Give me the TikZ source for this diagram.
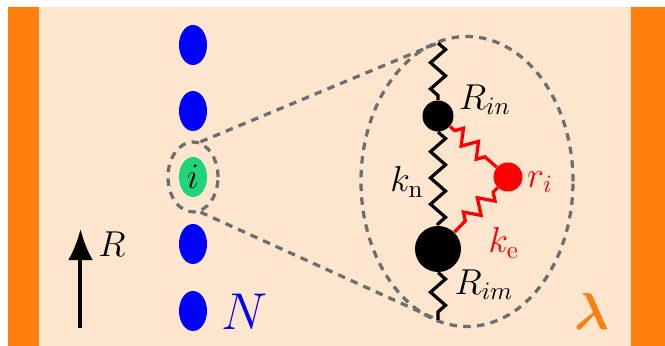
\documentclass[tikz,border=0pt]{standalone}
\usepackage{amsmath,amssymb}
\usepackage{bm}
\usepackage{tikz}
\usetikzlibrary{arrows.meta,shapes.geometric,decorations.pathmorphing}
\definecolor{peach}{RGB}{253,229,206}
\definecolor{barorange}{RGB}{255,127,14}
\definecolor{beadgreen}{RGB}{30,213,122}
\definecolor{zoomgray}{RGB}{110,110,110}
\tikzset{bead/.style={ellipse,inner sep=0pt,minimum width=11.2pt,minimum height=16pt},
         zoomring/.style={ellipse,draw=zoomgray,line width=1.3pt,dash pattern=on 3pt off 2.5pt,inner sep=0pt},
         zoomline/.style={draw=zoomgray,line width=1.3pt,dash pattern=on 3pt off 2.5pt},
         mono/.style={circle,fill=black,inner sep=0pt},
         nspring/.style={decorate,decoration={zigzag,segment length=10.5pt,amplitude=3pt},line width=1.3pt},
         espring/.style={decorate,decoration={zigzag,segment length=8pt,amplitude=3pt,pre length=2.5pt,post length=2.5pt},line width=1.3pt,red},
         raxis/.style={-{Latex[length=12.5pt,width=10pt]},line width=1.6pt}}

\begin{document}
\begin{tikzpicture}[x=20pt,y=20pt]
  \useasboundingbox (0,0) rectangle (13.3,6.92);
  \fill[peach] (0.16,0) rectangle (13.3,6.78);
  \fill[barorange] (0.16,0) rectangle (0.78,6.78) (12.62,0) rectangle (13.3,6.78);
  % the chain of beads
  \foreach \y/\n in {6.02/a,4.70/b,2.04/d,0.70/e}
    \node[bead,fill=blue] (b\n) at (3.86,\y) {};
  \node[bead,fill=beadgreen,font=\Large] (bi) at (3.86,3.38) {$i$};
  \node[zoomring,minimum width=20pt,minimum height=28pt] (zs) at (bi) {};
  \node[zoomring,minimum width=84.8pt,minimum height=116pt] (zb) at (9.34,3.29) {};
  \coordinate (top) at (8.76,6.06);
  \coordinate (bot) at (8.76,0.52);
  \draw[zoomline] (zs.78)--(top);
  \draw[zoomline] (zs.-78)--(bot);
  % zoomed bead
  \node[mono,minimum size=12.4pt] (Rin) at (8.76,4.60) {};
  \node[mono,minimum size=18.4pt] (Rim) at (8.76,1.94) {};
  \node[circle,fill=red,inner sep=0pt,minimum size=11.6pt] (ri) at (10.16,3.38) {};
  \draw[nspring] (top)--(Rin);
  \draw[nspring] (Rin)--(Rim);
  \draw[nspring] (Rim)--(bot);
  \draw[espring] (Rin)--(ri);
  \draw[espring] (ri)--(Rim);
  \node[font=\Large] (lRin) at (9.7,4.92) {$R_{in}$};
  \node[font=\Large] (lRim) at (9.68,1.22) {$R_{im}$};
  \node[font=\Large] (lkn) at (8.14,3.28) {$k_{\mathrm{n}}$};
  \node[font=\Large,text=red] (lri) at (10.8,3.28) {$r_i$};
  \node[font=\Large,text=red] (lke) at (10.08,2.06) {$k_{\mathrm{e}}$};
  % axis and labels
  \coordinate (ar0) at (1.61,0.36);
  \coordinate (ar1) at (1.61,2.34);
  \draw[raxis] (ar0)--(ar1);
  \node[font=\Large] (lR) at (2.24,2.04) {$R$};
  \node[font=\huge,text=blue] (lN) at (4.9,0.68) {$N$};
  \node[font=\huge,text=barorange] (llam) at (11.84,0.68) {$\bm{\lambda}$};
\end{tikzpicture}
\end{document}
